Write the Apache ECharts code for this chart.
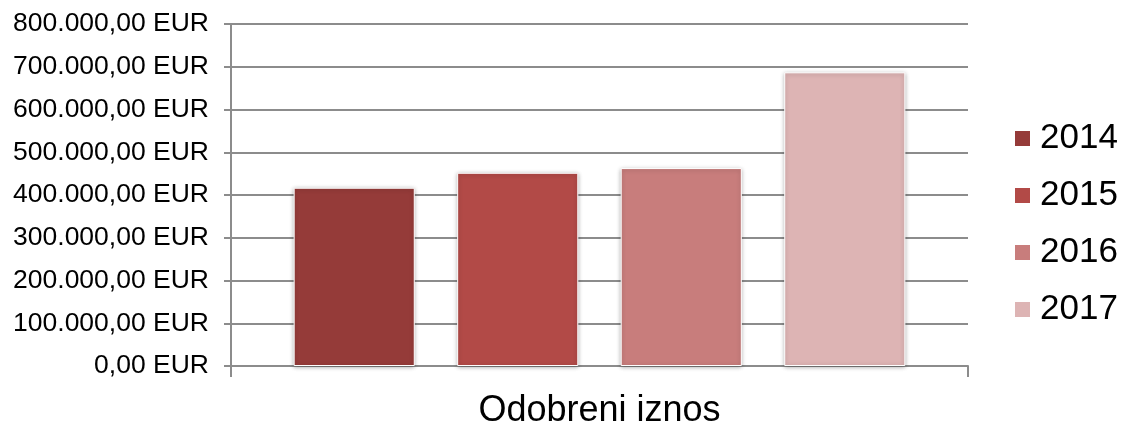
<!DOCTYPE html>
<html>
<head>
<meta charset="utf-8">
<script src="https://cdn.jsdelivr.net/npm/echarts@6/dist/echarts.min.js"></script>
<style>
  html, body { margin: 0; padding: 0; background: #fff; }
  #chart { width: 1126px; height: 429px; }
</style>
</head>
<body>
<div id="chart"></div>
<script>
var categories = ["Odobreni iznos"];
var years = ["2014", "2015", "2016", "2017"];
var amounts = [417000, 452000, 463000, 687000];
var colors = ["#953b39", "#b24a47", "#c87d7c", "#ddb4b4"];

function eur(v) {
  var s = String(Math.round(v));
  s = s.replace(/\B(?=(\d{3})+(?!\d))/g, ".");
  return s + ",00 EUR";
}

var myChart = echarts.init(document.getElementById("chart"), null, { renderer: "canvas" });

var series = years.map(function (y, i) {
  return {
    name: y,
    type: "bar",
    data: [amounts[i]],
    barGap: "35%",
    barCategoryGap: "17%",
    itemStyle: {
      color: colors[i],
      borderColor: "#ffffff",
      borderWidth: 1,
      shadowBlur: 4,
      shadowColor: "rgba(0,0,0,0.3)",
      shadowOffsetX: 0,
      shadowOffsetY: 1
    }
  };
});

var option = {
  animation: false,
  backgroundColor: "#ffffff",
  textStyle: { fontFamily: "Liberation Sans, Arial, sans-serif" },
  grid: { left: 231, right: 158, top: 24, bottom: 60, containLabel: false },
  legend: {
    orient: "vertical",
    left: 1013,
    top: 121,
    padding: 0,
    itemWidth: 17,
    itemHeight: 17,
    itemGap: 22,
    icon: "rect",
    data: years,
    textStyle: {
      fontSize: 35,
      lineHeight: 35,
      color: "#000",
      padding: [0, 0, 0, 4]
    }
  },
  xAxis: {
    type: "category",
    data: categories,
    axisLine: { lineStyle: { color: "#8c8c8c", width: 2 } },
    axisTick: { show: true, length: 11, lineStyle: { color: "#8c8c8c", width: 2 } },
    axisLabel: { fontSize: 36, color: "#000", margin: 27 }
  },
  yAxis: {
    type: "value",
    min: 0,
    max: 800000,
    interval: 100000,
    axisLine: { show: true, lineStyle: { color: "#8c8c8c", width: 2 } },
    axisTick: { show: true, length: 7, lineStyle: { color: "#8c8c8c", width: 2 } },
    splitLine: { lineStyle: { color: "#8c8c8c", width: 2 } },
    axisLabel: { fontSize: 26.5, color: "#000", margin: 22, formatter: eur }
  },
  series: series
};

option && myChart.setOption(option);
</script>
</body>
</html>
